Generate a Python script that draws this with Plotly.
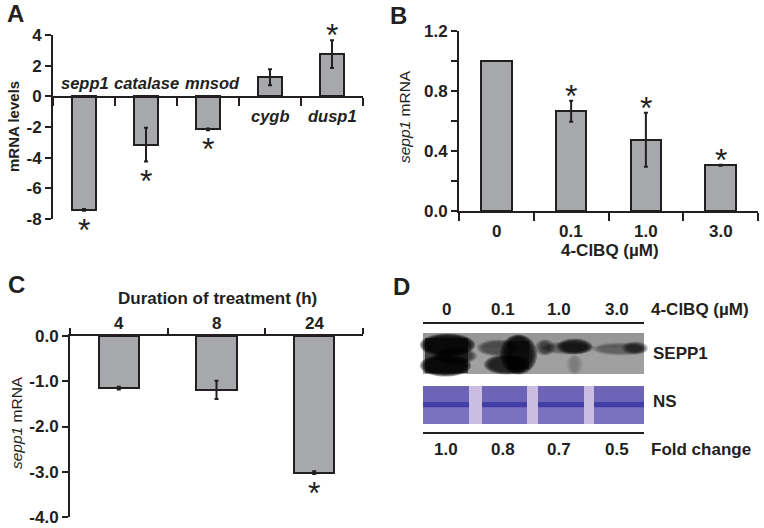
import plotly.graph_objects as go

W, H = 764, 528
def px(x): return x / W
def py(y): return 1 - y / H

# ---------------- data ----------------
a_genes = ["sepp1", "catalase", "mnsod", "cygb", "dusp1"]
a_vals = [-7.4, -3.15, -2.15, 1.25, 2.75]
a_err = [0.06, 1.1, 0.06, 0.52, 0.9]
a_sig = [True, True, True, False, True]
a_ticks = [-8, -6, -4, -2, 0, 2, 4]

b_conc = ["0", "0.1", "1.0", "3.0"]
b_vals = [1.0, 0.665, 0.475, 0.305]
b_err = [0.0, 0.07, 0.18, 0.004]
b_sig = [False, True, True, True]
b_ticks = [0, 0.2, 0.4, 0.6, 0.8, 1.0, 1.2]
b_ticklabels = ["0.0", "", "0.4", "", "0.8", "", "1.2"]

c_hours = ["4", "8", "24"]
c_vals = [-1.15, -1.19, -3.02]
c_err = [0.03, 0.2, 0.03]
c_sig = [False, False, True]
c_ticks = [-4, -3, -2, -1, 0]
c_ticklabels = ["-4.0", "-3.0", "-2.0", "-1.0", "0.0"]

d_conc = ["0", "0.1", "1.0", "3.0"]
d_fold = ["1.0", "0.8", "0.7", "0.5"]

INK = "#231f20"
BARC = "#a6a8ab"
FONT = "Arial, Liberation Sans, sans-serif"
TS = 17

fig = go.Figure()

def bars(vals, errs, xa, ya, width):
    fig.add_trace(go.Bar(
        x=list(range(len(vals))), y=vals, width=width,
        marker=dict(color=BARC, line=dict(color=INK, width=2)),
        error_y=dict(type="data", array=errs, visible=True, color=INK,
                     thickness=2, width=2),
        xaxis=xa, yaxis=ya, showlegend=False, hoverinfo="skip"))

bars(a_vals, a_err, "x", "y", 0.4)
bars(b_vals, b_err, "x2", "y2", 0.41)
bars(c_vals, c_err, "x3", "y3", 0.41)

axcommon = dict(showgrid=False, zeroline=False, showline=True, linecolor=INK,
                linewidth=2, ticks="outside", tickcolor=INK, tickwidth=2,
                tickfont=dict(family=FONT, size=TS, color=INK),
                automargin=False, fixedrange=True)

def bold(lst):
    return ["<b>%s</b>" % s if s else "" for s in lst]

layout = dict(
    template="none",
    width=W, height=H, margin=dict(l=0, r=0, t=0, b=0, autoexpand=False),
    paper_bgcolor="white", plot_bgcolor="rgba(0,0,0,0)",
    font=dict(family=FONT, color=INK), bargap=0,
    # Panel A
    xaxis=dict(axcommon, domain=[px(53), px(363)], range=[-0.5, 4.5],
               anchor="free", position=py(97),
               tickvals=[i - 0.5 for i in range(len(a_genes) + 1)],
               ticklen=8, showticklabels=False),
    yaxis=dict(axcommon, domain=[py(219), py(35)], range=[-8, 4],
               tickvals=a_ticks, ticktext=bold([str(t) for t in a_ticks]),
               ticklen=6, anchor="x"),
    # Panel B
    xaxis2=dict(axcommon, domain=[px(459), px(758)], range=[-0.5, 3.5],
                anchor="y2", tickvals=[i - 0.5 for i in range(len(b_conc) + 1)],
                ticklen=8, showticklabels=False),
    yaxis2=dict(axcommon, domain=[py(211), py(31)], range=[0, 1.2],
                tickvals=b_ticks, ticktext=bold(b_ticklabels),
                ticklen=6, anchor="x2"),
    # Panel C
    xaxis3=dict(axcommon, domain=[px(70), px(363)], range=[-0.5, 2.5],
                anchor="y3", side="top",
                tickvals=[i - 0.5 for i in range(len(c_hours) + 1)],
                ticklen=6, showticklabels=False),
    yaxis3=dict(axcommon, domain=[py(517), py(336)], range=[-4, 0],
                tickvals=c_ticks, ticktext=bold(c_ticklabels),
                ticklen=6, anchor="x3"),
)
fig.update_layout(**layout)

ann = []
def txt(x, y, t, size=TS, xref="paper", yref="paper", bold=True, italic=False,
        xanchor="center", yanchor="middle", angle=0, yshift=0, xshift=0):
    ann.append(dict(x=x, y=y, xref=xref, yref=yref, text=t, showarrow=False,
                    xanchor=xanchor, yanchor=yanchor, textangle=angle,
                    yshift=yshift, xshift=xshift, borderpad=0,
                    font=dict(family=FONT, size=size, color=INK,
                              weight="bold" if bold else "normal",
                              style="italic" if italic else "normal")))

# panel letters
txt(px(15), py(14), "A", size=24)
txt(px(398), py(15), "B", size=24)
txt(px(16), py(284), "C", size=24)
txt(px(401), py(286), "D", size=24)

# Panel A labels
a_lab_shift = [1, 0, 4, 0, 0]
for i, (g, v) in enumerate(zip(a_genes, a_vals)):
    yy = py(83) if v < 0 else py(116)
    txt(i, yy, g, size=16.5, xref="x", italic=True, xshift=a_lab_shift[i])
txt(px(14), py(127), "mRNA levels", size=15, angle=-90)

def stars(vals, errs, sig, xref, yref):
    for i, (v, e, s) in enumerate(zip(vals, errs, sig)):
        if not s:
            continue
        if v < 0:
            txt(i, v - e, "*", size=32, xref=xref, yref=yref, bold=False, yshift=-19)
        else:
            txt(i, v + e, "*", size=32, xref=xref, yref=yref, bold=False, yshift=5)

stars(a_vals, a_err, a_sig, "x", "y")
stars(b_vals, b_err, b_sig, "x2", "y2")
stars(c_vals, c_err, c_sig, "x3", "y3")

# Panel B labels
for i, c in enumerate(b_conc):
    txt(i, py(231), c, xref="x2")
txt(px(610), py(250), "4-ClBQ (µM)")
txt(px(405), py(117), "<i>sepp1</i> mRNA", size=15.5, bold=False, angle=-90)

# Panel C labels
for i, h in enumerate(c_hours):
    txt(i, py(323), h, xref="x3")
txt(px(217), py(298), "Duration of treatment (h)")
txt(px(16), py(423), "<i>sepp1</i> mRNA", size=15.5, bold=False, angle=-90)

# Panel D labels
lane_x = [446, 503, 559, 617]
for x, c in zip(lane_x, d_conc):
    txt(px(x), py(309), c)
for x, f in zip(lane_x, d_fold):
    txt(px(x), py(449), f)
txt(px(650), py(309), "4-ClBQ (µM)", xanchor="left")
txt(px(652), py(353), "SEPP1", xanchor="left")
txt(px(652), py(401), "NS", xanchor="left")
txt(px(650), py(449), "Fold change", xanchor="left")

fig.update_layout(annotations=ann)

# Panel D blot drawing (decorative)
shapes = []
def rect(x0, y0, x1, y1, color, op=1.0):
    shapes.append(dict(type="rect", xref="paper", yref="paper", x0=px(x0), x1=px(x1),
                       y0=py(y1), y1=py(y0), fillcolor=color, opacity=op, line=dict(width=0)))
def blob(x0, y0, x1, y1, op, color="#000000", layers=5, grow=1.3):
    for k in range(layers):
        g = grow * (layers - 1 - k)
        shapes.append(dict(type="circle", xref="paper", yref="paper",
                           x0=px(x0 - g), x1=px(x1 + g), y0=py(y1 + g * 0.5), y1=py(y0 - g * 0.5),
                           fillcolor=color, opacity=min(1.0, op / layers * 1.6),
                           line=dict(width=0)))
def hline(x0, x1, y):
    shapes.append(dict(type="line", xref="paper", yref="paper", x0=px(x0), x1=px(x1),
                       y0=py(y), y1=py(y), line=dict(color=INK, width=2)))

hline(423, 644, 323)
hline(423, 644, 433)
rect(423, 333, 644, 374, "#a0a0a0")
rect(423, 333, 644, 348, "#8c8c8c", 0.5)
# lane 0
rect(425, 338, 468, 373, "#000000", 0.6)
blob(425, 336, 470, 354, 0.95)
blob(425, 357, 466, 374, 0.95)
blob(438, 350, 472, 362, 0.5)
# lane 0.1
blob(482, 342, 515, 354, 0.4)
rect(508, 341, 529, 369, "#000000", 0.5)
blob(505, 337, 532, 372, 0.95)
blob(489, 357, 524, 372, 0.8)
# lane 1.0
blob(540, 342, 550, 353, 0.45)
blob(546, 344, 590, 352, 0.3)
blob(562, 341, 587, 352, 0.75)
blob(571, 357, 578, 372, 0.15)
# lane 3.0
blob(598, 345, 642, 353, 0.28)
blob(627, 344, 643, 352, 0.5)

rect(423, 386, 644, 424, "#cbbde2")
lanes = [(423, 469), (482, 527), (538, 584), (594, 644)]
for x0, x1 in lanes:
    rect(x0, 386, x1, 424, "#6d64b8")
    rect(x0, 408, x1, 424, "#8077c4", 0.7)
    rect(x0, 402, x1, 407, "#3b3aa2", 0.85)
fig.update_layout(shapes=shapes)

fig.write_html("out.html", config={"displayModeBar": False},
               post_script="document.body.style.margin='0px';")
